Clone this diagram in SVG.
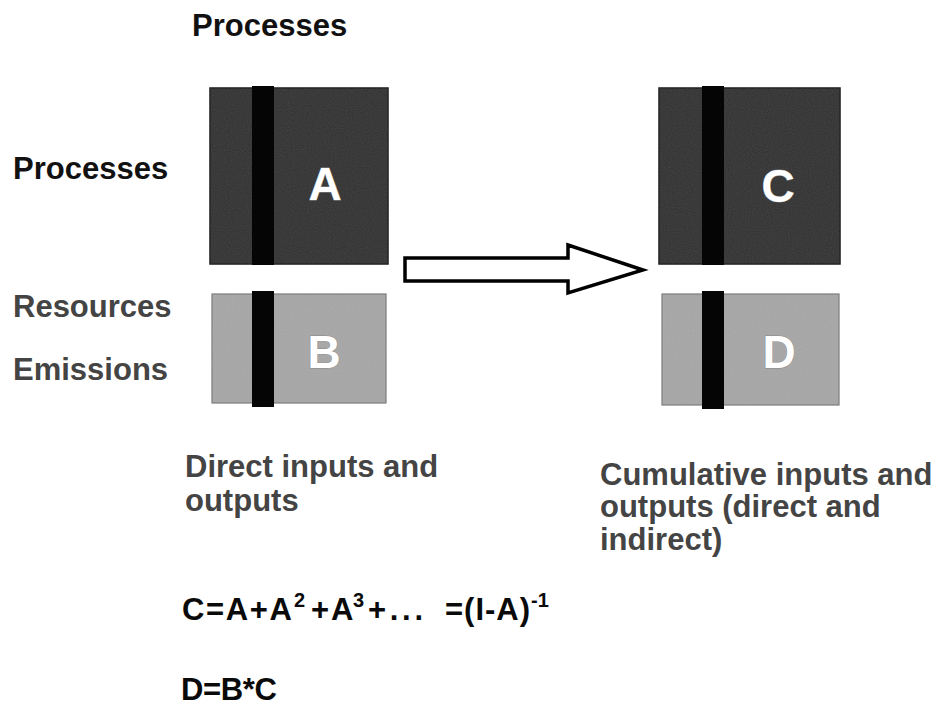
<svg xmlns="http://www.w3.org/2000/svg" width="951" height="706" viewBox="0 0 951 706">
  <style>
    .head { font-family: "Liberation Sans", Arial, sans-serif; font-weight: bold; font-size: 31px; fill: #111; }
    .soft { font-family: "Liberation Sans", Arial, sans-serif; font-weight: bold; font-size: 31px; fill: #444; }
    .eq { font-family: "Liberation Sans", Arial, sans-serif; font-weight: bold; font-size: 31px; fill: #0a0a0a; }
    .sup { font-size: 20px; }
    .letter { font-family: "Liberation Sans", Arial, sans-serif; font-weight: bold; font-size: 46px; fill: #fff; text-anchor: middle; stroke: #888; stroke-width: 0.8px; paint-order: stroke; }
    .dark { fill: #2f2f2f; stroke: #1a1a1a; stroke-width: 1.5; }
    .light { fill: #a6a6a6; stroke: #7a7a7a; stroke-width: 1.2; }
    .bar { fill: #050505; }
    .grain { filter: url(#noise); opacity: 0.16; }
    .flow { fill: #fff; stroke: #000; stroke-width: 3.5; stroke-linejoin: miter; }
  </style>
  <defs>
    <!-- fine grain laid over the matrix blocks -->
    <filter id="noise" x="0" y="0" width="100%" height="100%">
      <feTurbulence type="fractalNoise" baseFrequency="0.95" numOctaves="1" seed="3" result="n"/>
      <feColorMatrix in="n" type="saturate" values="0" result="g"/>
      <feComposite in="g" in2="SourceGraphic" operator="in"/>
    </filter>
  </defs>

  <rect width="951" height="706" fill="#fff"/>

  <!-- row / column labels -->
  <text class="head" x="192" y="36">Processes</text>
  <text class="head" x="13" y="179">Processes</text>
  <text class="soft" x="13" y="317">Resources</text>
  <text class="soft" x="13" y="380">Emissions</text>

  <!-- direct matrices -->
  <g id="node-A">
    <rect class="dark" x="210" y="88" width="178" height="176"/>
    <rect class="grain" x="210" y="88" width="178" height="176" fill="#fff"/>
    <rect class="bar" x="252" y="86" width="22" height="179"/>
    <text class="letter" x="325" y="200">A</text>
  </g>
  <g id="node-B">
    <rect class="light" x="212" y="294" width="174" height="109"/>
    <rect class="grain" x="212" y="294" width="174" height="109" fill="#fff"/>
    <rect class="bar" x="252" y="291" width="22" height="116"/>
    <text class="letter" x="324" y="368">B</text>
  </g>

  <!-- cumulative matrices -->
  <g id="node-C">
    <rect class="dark" x="659" y="88" width="181" height="176"/>
    <rect class="grain" x="659" y="88" width="181" height="176" fill="#fff"/>
    <rect class="bar" x="702" y="86" width="22" height="179"/>
    <text class="letter" x="778" y="202">C</text>
  </g>
  <g id="node-D">
    <rect class="light" x="662" y="294" width="177" height="111"/>
    <rect class="grain" x="662" y="294" width="177" height="111" fill="#fff"/>
    <rect class="bar" x="702" y="291" width="22" height="118"/>
    <text class="letter" x="779" y="368">D</text>
  </g>

  <!-- block arrow from direct to cumulative -->
  <g id="connectors">
    <path class="flow" d="M405,258 L568,258 L568,245 L643,270 L568,293 L568,281 L405,281 Z"/>
  </g>

  <!-- captions -->
  <text class="soft" x="185" y="477">Direct inputs and</text>
  <text class="soft" x="185" y="511">outputs</text>
  <text class="soft" x="600" y="485">Cumulative inputs and</text>
  <text class="soft" x="600" y="517">outputs (direct and</text>
  <text class="soft" x="600" y="550">indirect)</text>

  <!-- equations -->
  <text class="eq" y="620"><tspan x="182" textLength="110" lengthAdjust="spacing">C=A+A</tspan><tspan class="sup" x="294" y="607">2</tspan><tspan x="311" y="620">+</tspan><tspan x="331">A</tspan><tspan class="sup" x="353" y="607">3</tspan><tspan x="368" y="620" textLength="55" lengthAdjust="spacing">+...</tspan><tspan x="445" textLength="85" lengthAdjust="spacing">=(I-A)</tspan><tspan class="sup" x="531" y="607">-1</tspan></text>
  <text class="eq" x="181" y="700" textLength="96" lengthAdjust="spacing">D=B*C</text>
</svg>
